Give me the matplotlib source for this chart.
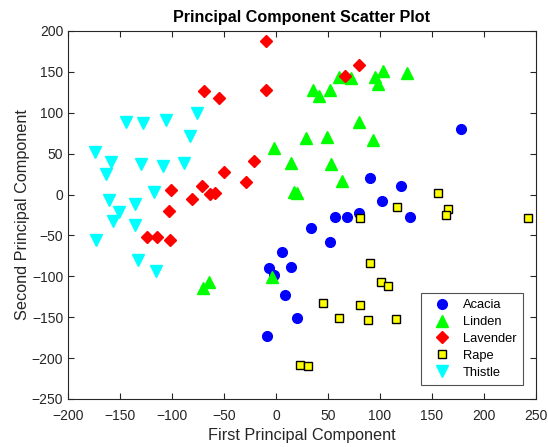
import matplotlib
matplotlib.use("Agg")
import matplotlib.pyplot as plt

plt.rcParams['font.family'] = ['Liberation Sans', 'DejaVu Sans']

acacia_x = [178, 90, 120, 102, 57, 68, 80, 129, 34, 52, 6, -7, -2, 14, 9, 20, -9]
acacia_y = [80, 20, 10, -8, -27, -28, -22, -27, -41, -58, -70, -90, -98, -88, -123, -151, -173]

linden_x = [36, 41, 52, 61, 72, 95, 103, 98, 126, 80, 29, 49, 93, 53, 63, 17, 20, -2, 14, -70, -64, -4]
linden_y = [128, 121, 128, 144, 143, 144, 151, 135, 149, 89, 69, 70, 67, 37, 16, 3, 2, 57, 38, -114, -107, -101]

lavender_x = [-10, -10, -69, -55, -21, -50, -29, -101, -71, -63, -59, -81, -103, 80, 66, -124, -114, -102]
lavender_y = [188, 128, 127, 118, 41, 28, 15, 5, 11, 1, 2, -5, -20, 159, 145, -52, -52, -55]

rape_x = [156, 116, 165, 163.5, 242, 80.5, 90, 101, 108, 45, 80.5, 61, 88, 115, 23, 31]
rape_y = [2, -15.5, -18, -24.5, -28.5, -29, -84, -107, -111.5, -133, -135, -151, -153, -152, -208.5, -210]

thistle_x = [-174, -159, -163, -144.5, -128, -106, -76, -83, -130, -109, -88.5, -117, -161, -136, -151, -157, -136, -173, -133, -115]
thistle_y = [52, 40, 25, 89, 88, 91, 99.5, 72, 37, 35, 38, 3, -7, -11, -21, -32, -37, -56, -80.5, -93]

xticks = [-200, -150, -100, -50, 0, 50, 100, 150, 200, 250]
yticks = [-250, -200, -150, -100, -50, 0, 50, 100, 150, 200]

fig = plt.figure(figsize=(5.48, 4.47), dpi=100)
ax = fig.add_axes([68/548, 48/447, 468/548, 368/447])

ax.plot(acacia_x, acacia_y, 'o', ls='none', color='#0000ff', mec='#0000ff', ms=7, label='Acacia')
ax.plot(linden_x, linden_y, '^', ls='none', color='#00ff00', mec='#00ff00', ms=8, label='Linden')
ax.plot(lavender_x, lavender_y, 'D', ls='none', color='#ff0000', mec='#ff0000', ms=6, label='Lavender')
ax.plot(rape_x, rape_y, 's', ls='none', color='#ffff00', mec='black', mew=1, ms=6, label='Rape')
ax.plot(thistle_x, thistle_y, 'v', ls='none', color='#00ffff', mec='#00ffff', ms=8, label='Thistle')

ax.set_xlim(-200, 250)
ax.set_ylim(-250, 200)
ax.set_xticks(xticks)
ax.set_yticks(yticks)
ax.tick_params(direction='in', top=True, right=True, labelsize=10, length=4, width=0.8, colors='#262626')
ax.tick_params(axis='x', pad=7)
for s in ax.spines.values():
    s.set_color('#262626')
    s.set_linewidth(0.8)

ax.set_title('Principal Component Scatter Plot', fontsize=11.6, fontweight='bold', pad=6.5)
ax.set_xlabel('First Principal Component', fontsize=11.7, color='#262626', labelpad=4)
ax.set_ylabel('Second Principal Component', fontsize=11.7, color='#262626', labelpad=1)

leg = ax.legend(loc='lower right', bbox_to_anchor=(0.972, 0.038), fontsize=9.3, frameon=True,
                fancybox=False, edgecolor='#262626', handletextpad=0.5, labelspacing=0.37,
                borderpad=0.5, handlelength=2.2, borderaxespad=0)
leg.get_frame().set_linewidth(0.8)

fig.savefig('out.png', dpi=100)
